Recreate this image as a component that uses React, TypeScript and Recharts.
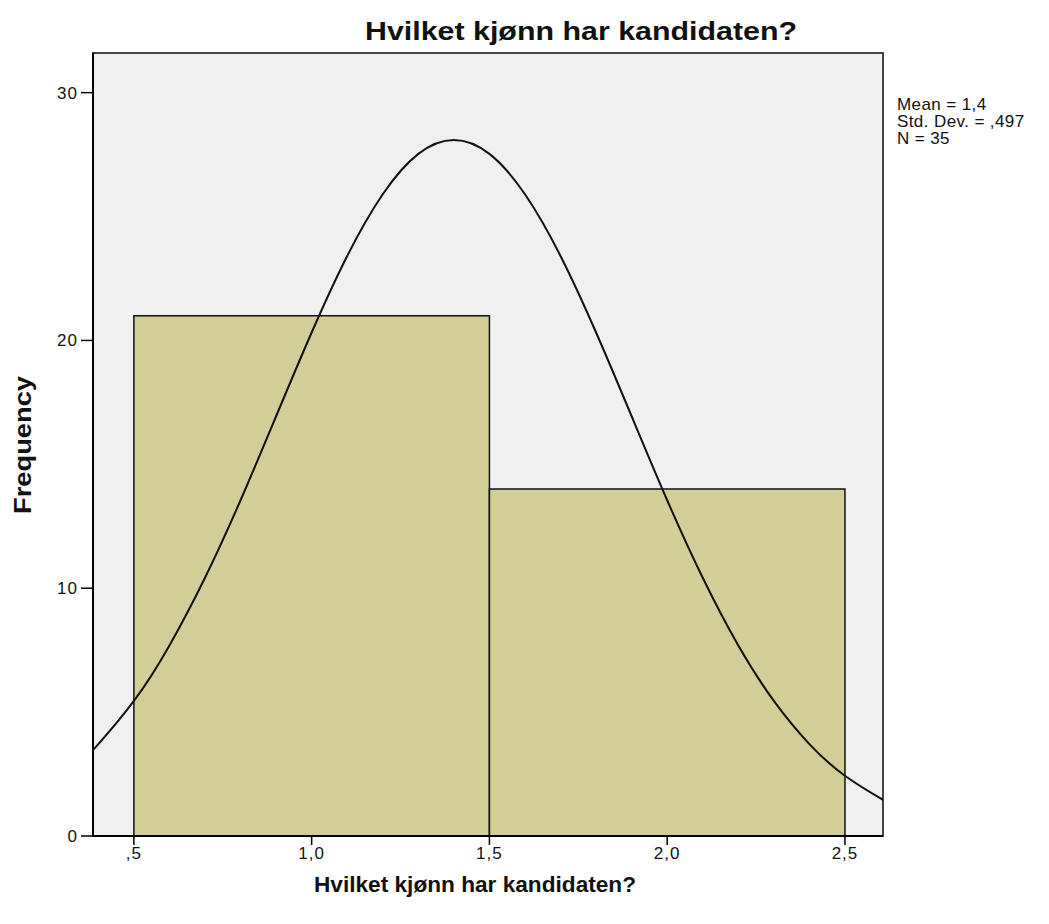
import { ComposedChart, Line, XAxis, YAxis, ReferenceArea } from 'recharts'

const binStart = [0.5, 1.5]
const binEnd = [1.5, 2.5]
const binCount = [21, 14]

// normal curve
const curveX = [0.385, 0.4, 0.5, 0.6, 0.7, 0.8, 0.9, 1.0, 1.1, 1.2, 1.3, 1.4, 1.5, 1.6, 1.7, 1.8, 1.9, 2.0, 2.1, 2.2, 2.3, 2.4, 2.5, 2.6, 2.607]
const curveY = [3.5, 3.71, 5.45, 7.69, 10.42, 13.55, 16.94, 20.32, 23.41, 25.9, 27.53, 28.09, 27.53, 25.9, 23.41, 20.32, 16.94, 13.55, 10.42, 7.69, 5.45, 3.71, 2.43, 1.52, 1.47]

const xTicks = [0.5, 1, 1.5, 2, 2.5]
const yTicks = [0, 10, 20, 30]
const xDomain = [0.385, 2.607]
const yDomain = [0, 31.6]

const title = 'Hvilket kjønn har kandidaten?'
const xLabel = 'Hvilket kjønn har kandidaten?'
const yLabel = 'Frequency'
const stats = ['Mean = 1,4', 'Std. Dev. = ,497', 'N = 35']

const FONT = '"Liberation Sans", Arial, sans-serif'
const W = 1049
const H = 924

const curveData = curveX.map((x, i) => ({ x, y: curveY[i] }))

const fmtX = (v: number) => (v < 1 ? ',' + String(v).split('.')[1] : v.toFixed(1).replace('.', ','))

export default function App() {
  return (
    <div style={{ position: 'relative', width: W, height: H, fontFamily: FONT, background: '#fff' }}>
      <style>{'body{margin:0}'}</style>
      <ComposedChart
        width={W}
        height={H}
        data={curveData}
        margin={{ top: 53, right: W - 883, bottom: H - 836 - 40, left: 93 - 60 }}
      >
        <XAxis
          dataKey="x"
          type="number"
          domain={xDomain}
          allowDataOverflow
          ticks={xTicks}
          tickFormatter={fmtX}
          height={40}
          tickSize={9}
          tickMargin={2}
          axisLine={{ stroke: '#000', strokeWidth: 2 }}
          tickLine={{ stroke: '#000', strokeWidth: 1.5 }}
          tick={{ fill: '#111', fontSize: 17, fontFamily: FONT, letterSpacing: 1 }}
        />
        <YAxis
          type="number"
          domain={yDomain}
          allowDataOverflow
          ticks={yTicks}
          width={60}
          tickSize={12}
          tickMargin={3}
          axisLine={{ stroke: '#000', strokeWidth: 2 }}
          tickLine={{ stroke: '#000', strokeWidth: 1.5 }}
          tick={{ fill: '#111', fontSize: 17, fontFamily: FONT, letterSpacing: 1 }}
        />
        <ReferenceArea
          x1={xDomain[0]}
          x2={xDomain[1]}
          y1={yDomain[0]}
          y2={yDomain[1]}
          fill="#f0f0f0"
          fillOpacity={1}
          stroke="#444"
          strokeWidth={2}
        />
        {binCount.map((c, i) => (
          <ReferenceArea
            key={i}
            x1={binStart[i]}
            x2={binEnd[i]}
            y1={0}
            y2={c}
            fill="#d3ce98"
            fillOpacity={1}
            stroke="#111"
            strokeWidth={1.5}
          />
        ))}
        <Line
          dataKey="y"
          type="natural"
          stroke="#111"
          strokeWidth={2}
          dot={false}
          activeDot={false}
          isAnimationActive={false}
        />
      </ComposedChart>
      <svg
        width={W}
        height={H}
        style={{ position: 'absolute', left: 0, top: 0, pointerEvents: 'none' }}
        fontFamily={FONT}
      >
        <text x={581} y={40} textAnchor="middle" fontSize={26} fontWeight="bold" fill="#111" textLength={432} lengthAdjust="spacingAndGlyphs">
          {title}
        </text>
        <text x={475} y={892} textAnchor="middle" fontSize={22} fontWeight="bold" fill="#111" textLength={322} lengthAdjust="spacingAndGlyphs">
          {xLabel}
        </text>
        <text
          x={0}
          y={0}
          transform="translate(31,445) rotate(-90)"
          textAnchor="middle"
          fontSize={23}
          fontWeight="bold"
          fill="#111"
          textLength={138}
          lengthAdjust="spacingAndGlyphs"
        >
          {yLabel}
        </text>
        {stats.map((s, i) => (
          <text key={s} x={897} y={110 + i * 17} fontSize={17} fill="#111" letterSpacing={0.4}>
            {s}
          </text>
        ))}
      </svg>
    </div>
  )
}
